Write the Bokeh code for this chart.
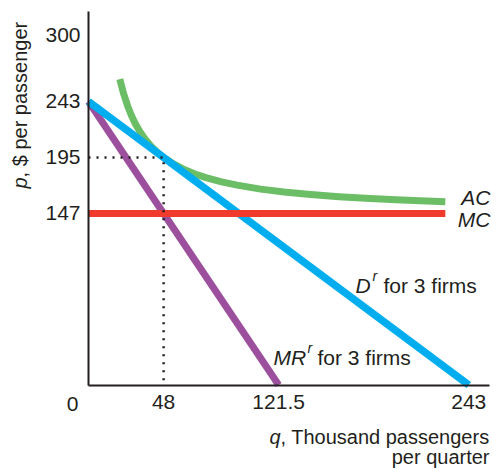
import math
from bokeh.plotting import figure
from bokeh.models import Range1d, FixedTicker, Label
from bokeh.embed import file_html
from bokeh.resources import INLINE

# ---- data ----
q_ticks = [48, 121.5, 243]
q_tick_labels = ["48", "121.5", "243"]
p_ticks = [147, 195, 243, 300]
p_tick_labels = ["147", "195", "243", "300"]

q_axis_max = 256
p_axis_max = 320

q_demand = [0, 243]
p_demand = [243, 0]

q_mr = [0, 121.5]
p_mr = [243, 0]

q_mc = [0, 228]
p_mc = [147, 147]

q_ac = [20, 22.5, 25, 27.5, 30, 33, 36, 40, 44, 48, 54, 60, 68, 75, 85, 95, 110, 125, 140, 160, 180, 200, 228]
p_ac = [262.2, 249.4, 239.2, 230.8, 223.8, 216.8, 211.0, 204.6, 199.4, 195.0, 189.7, 185.4, 180.9, 177.7, 174.1, 171.3, 167.9, 165.4, 163.5, 161.4, 159.8, 158.5, 157.1]

q_dot = [0, 48, 48]
p_dot = [195, 195, 0]

# ---- layout ----
FONT = "Liberation Sans"
INK = "#231F20"
W, H = 498, 474
OX, OY = 88.0, 384.5      # page pixel of the origin
SX, SY = 1.565, 1.1667    # pixels per data unit
BASE_FIX = 8              # renderer places alphabetic baseline this much lower

p = figure(width=W, height=H, output_backend="svg", toolbar_location=None,
           x_range=Range1d(-OX / SX, (W - OX) / SX),
           y_range=Range1d(-(H - OY) / SY, OY / SY),
           min_border=0, min_border_left=0, min_border_right=0,
           min_border_top=0, min_border_bottom=0)
p.outline_line_color = None
p.grid.visible = False
p.background_fill_color = "white"
p.border_fill_color = "white"

xa, ya = p.xaxis[0], p.yaxis[0]
for ax in (xa, ya):
    ax.fixed_location = 0
    ax.axis_line_color = INK
    ax.axis_line_width = 2
    ax.major_tick_line_color = None
    ax.minor_tick_line_color = None
    ax.major_tick_out = 0
    ax.major_tick_in = 0
    ax.major_label_text_font = FONT
    ax.major_label_text_font_size = "21px"
    ax.major_label_text_color = INK

xa.bounds = (0, q_axis_max)
xa.ticker = FixedTicker(ticks=q_ticks)
xa.major_label_overrides = {t: l for t, l in zip(q_ticks, q_tick_labels)}
xa.major_label_standoff = 10
ya.bounds = (0, p_axis_max)
ya.ticker = FixedTicker(ticks=p_ticks)
ya.major_label_overrides = {t: l for t, l in zip(p_ticks, p_tick_labels)}
ya.major_label_standoff = 8

# ---- curves ----
p.line(q_ac, p_ac, line_color="#6CBE66", line_width=7, line_join="round")
p.line(q_mr, p_mr, line_color="#9B4F9C", line_width=7)
p.line(q_demand, p_demand, line_color="#00AEEF", line_width=7.5)
p.line(q_mc, p_mc, line_color="#EF3A2C", line_width=7)
p.line(q_dot, p_dot, line_color=INK, line_width=2.5, line_dash="2 6")

# ---- text helpers (page pixel -> data) ----
def dx(X):
    return (X - OX) / SX
def dy(Y):
    return (OY - Y) / SY

def lab(text, X, Y, size="21px", italic=False, align="left", angle=0.0):
    if angle:
        X = X - BASE_FIX
    else:
        Y = Y - BASE_FIX
    p.add_layout(Label(x=dx(X), y=dy(Y), text=text, text_font=FONT,
                       text_font_size=size, text_color=INK,
                       text_font_style="italic" if italic else "normal",
                       text_align=align, text_baseline="alphabetic",
                       angle=angle))

# origin label
lab("0", 72, 411, align="center")

# x title
lab(", Thousand passengers", 489, 444, size="20px", align="right")
lab("q", 489 - 10.45 * 20, 444, size="20px", italic=True, align="right")
lab("per quarter", 489, 464, size="20px", align="right")

# y title (rotated)
lab("p", 27, 188, size="20px", italic=True, angle=math.pi / 2)
lab(", $ per passenger", 27, 188 - 11.1, size="20px", angle=math.pi / 2)

# curve labels
lab("AC", 490, 205, italic=True, align="right")
lab("MC", 490, 227, italic=True, align="right")

lab("D", 355, 293, italic=True)
lab("r", 372, 283, size="14px", italic=True)
lab("for 3 firms", 383, 293)

lab("MR", 273, 365, italic=True)
lab("r", 307, 355, size="14px", italic=True)
lab("for 3 firms", 317, 365)

open("out.html", "w").write(file_html(p, INLINE))
